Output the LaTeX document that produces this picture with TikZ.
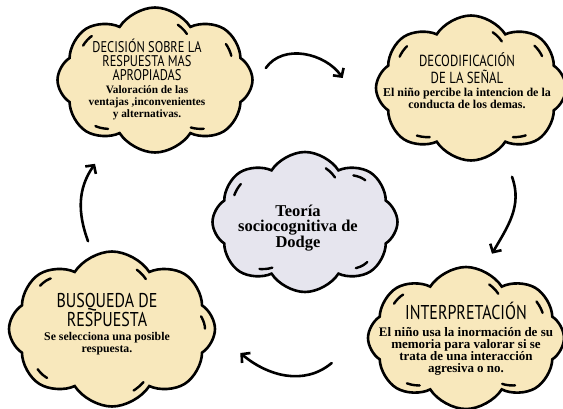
\documentclass[tikz,border=0pt]{standalone}
\usepackage{fontspec}
\setmainfont{Liberation Serif}
\newfontfamily\headfont{PT Sans}[FakeStretch=0.8]
\usetikzlibrary{positioning,shapes.symbols,arrows.meta}
\definecolor{cream}{RGB}{248,232,188}
\definecolor{mist}{RGB}{230,229,238}
\tikzset{
  puff/.style={cloud,cloud puffs=8,cloud puff arc=115,cloud ignores aspect,draw=black,line width=2.6pt,inner sep=0pt},
  puffdash/.style={cloud,cloud puffs=8,cloud puff arc=115,cloud ignores aspect,draw=black,line width=2.4pt,line cap=round,dash pattern=on 13pt off 95pt,inner sep=0pt},
  head/.style={align=center,inner sep=0pt,font=\headfont\fontsize{16}{17}\selectfont},
  body/.style={align=center,inner sep=0pt,font=\bfseries\fontsize{12}{12}\selectfont},
  flow/.style={-{Straight Barb[length=6pt,width=13pt]},line width=2.6pt,line cap=round},
}

\begin{document}
\begin{tikzpicture}[x=1pt,y=1pt]
\useasboundingbox (0,0) rectangle (563,-408);
% clouds
\node[puff,fill=cream,minimum width=195pt,minimum height=145pt] (dec) at (155,-80) {};
\node[puffdash,minimum width=175pt,minimum height=127pt] (decin) at (dec) {};
\node[puff,fill=cream,minimum width=190pt,minimum height=145pt] (deco) at (471,-88) {};
\node[puffdash,minimum width=170pt,minimum height=127pt] (decoin) at (deco) {};
\node[puff,fill=mist,minimum width=185pt,minimum height=140pt] (teo) at (305,-222) {};
\node[puffdash,minimum width=165pt,minimum height=122pt] (teoin) at (teo) {};
\node[puff,fill=cream,minimum width=206pt,minimum height=155pt] (bus) at (112,-329) {};
\node[puffdash,minimum width=186pt,minimum height=137pt] (busin) at (bus) {};
\node[puff,fill=cream,minimum width=196pt,minimum height=142pt] (int) at (466,-338) {};
\node[puffdash,minimum width=176pt,minimum height=124pt] (intin) at (int) {};

% texts
\node[head,font=\headfont\fontsize{15.5}{14}\selectfont] (dech) at (147,-60) {DECISIÓN SOBRE LA\\RESPUESTA MAS\\APROPIADAS};
\node[body,font=\bfseries\fontsize{11.3}{12}\selectfont,below=4pt of dech] (decb) {Valoración de las\\ventajas ,inconvenientes\\y alternativas.};
\node[head] (decoh) at (467,-68) {DECODIFICACIÓN\\DE LA SEÑAL};
\node[body,below=4pt of decoh] (decob) {El niño percibe la intencion de la\\conducta de los demas.};
\node[align=center,inner sep=0pt,font=\bfseries\fontsize{16.5}{15.5}\selectfont] (teot) at (298,-228) {Teoría\\sociocognitiva de\\Dodge};
\node[head,font=\headfont\fontsize{20}{19}\selectfont] (bush) at (107,-310) {BUSQUEDA DE\\RESPUESTA};
\node[body,font=\bfseries\fontsize{11.8}{12}\selectfont,below=5pt of bush] (busb) {Se selecciona una posible\\respuesta.};
\node[head,font=\headfont\fontsize{20}{19}\selectfont] (inth) at (466,-311) {INTERPRETACIÓN};
\node[body,font=\bfseries\fontsize{13}{12.2}\selectfont,below=7pt of inth] (intb) {El niño usa la inormación de su\\memoria para valorar si se\\trata de una interacción\\agresiva o no.};

% arrows
\draw[flow] ([xshift=12pt,yshift=12pt]dec.east) to[out=55,in=125] ([xshift=-32pt,yshift=10pt]deco.west);
\draw[flow] ([xshift=41pt,yshift=-15pt]deco.south) to[out=-70,in=60] ([xshift=26pt,yshift=12pt]int.north);
\draw[flow] ([xshift=-35pt,yshift=-25pt]int.west) to[out=-140,in=-40] ([xshift=24pt,yshift=-24pt]bus.east);
\draw[flow] ([xshift=-24pt,yshift=9pt]bus.north) to[out=110,in=-125] ([xshift=-60pt,yshift=-10pt]dec.south);
\end{tikzpicture}
\end{document}
